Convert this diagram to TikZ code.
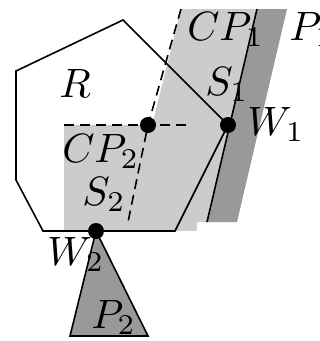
\documentclass[tikz,border=0pt]{standalone}
\usepackage{amsmath,amssymb}
\usepackage{xcolor}
\usepackage{tikz}
\usetikzlibrary{calc, positioning}

\tikzset{
  lbl/.style={scale=4.1, inner sep=0pt, anchor=base west},
  dot/.style={circle, fill=black, inner sep=0pt, minimum size=16pt},
  lightreg/.style={fill=black!20},
  darkreg/.style={fill=black!40}
}

\begin{document}
\begin{tikzpicture}[x=1pt,y=-1pt,line width=1.6pt]

        \useasboundingbox (0,0) rectangle (320,341);

        %=====================
        % Clearance regions CP_1, CP_2
        %=====================
        \fill[lightreg] (181,9) -- (257,9) -- (207,222) -- (128,222) -- cycle;
        \fill[lightreg] (64,125) rectangle (197,231);

        %=====================
        % Obstacle P_1
        %=====================
        \fill[darkreg] (257,9) -- (287,9) -- (237,222) -- (207,222) -- cycle;
        \draw (257,9) -- (207,222);

        %=====================
        % Dashed borders
        %=====================
        \draw[dash pattern=on 10pt off 6pt] (181,9) -- (148,125) -- (128,222);
        \draw[dash pattern=on 10pt off 6pt] (64,125) -- (188,125);

        %=====================
        % Robot R
        %=====================
        \draw (16,71) -- (123,20) -- (228,125) -- (175,231)
              -- (43,231) -- (16,180) -- cycle;

        %=====================
        % Obstacle P_2
        %=====================
        \draw[darkreg] (96,231) -- (70,336) -- (148,336) -- cycle;

        %=====================
        % Contact points
        %=====================
        \node[dot] (w1) at (228,125) {};
        \node[dot] (w2) at (96,231) {};
        \node[dot] (cp2dot) at (148,125) {};

        %=====================
        % Labels
        %=====================
        \node[lbl] (rlab) at (56,97) {$R$};
        \node[lbl] (cp1lab) at (184,40) {$CP_1$};
        \node[lbl] (p1lab) at (286,40) {$P_1$};
        \node[lbl] (s1lab) at (202,95) {$S_1$};
        \node[lbl] (w1lab) at (244,135) {$W_1$};
        \node[lbl] (cp2lab) at (59,162) {$CP_2$};
        \node[lbl] (s2lab) at (79,205) {$S_2$};
        \node[lbl] (w2lab) at (44,265) {$W_2$};
        \node[lbl] (p2lab) at (88,328) {$P_2$};

    \end{tikzpicture}
\end{document}
